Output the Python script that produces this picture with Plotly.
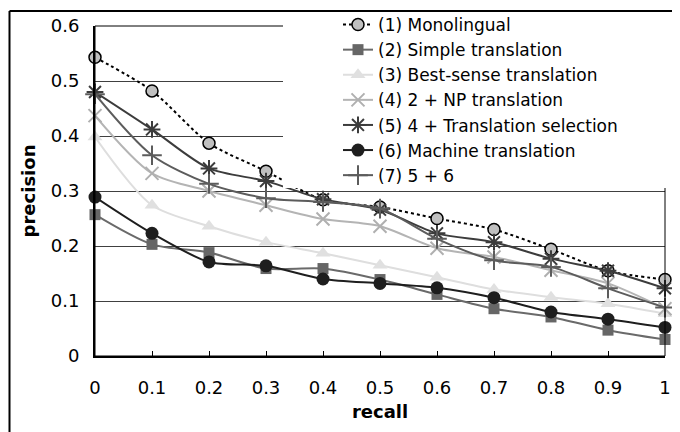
import plotly.graph_objects as go

recall = [0, 0.1, 0.2, 0.3, 0.4, 0.5, 0.6, 0.7, 0.8, 0.9, 1.0]

names = [
    "(1) Monolingual",
    "(2) Simple translation",
    "(3) Best-sense translation",
    "(4) 2 + NP translation",
    "(5) 4 + Translation selection",
    "(6) Machine translation",
    "(7) 5 + 6",
]

monolingual = [0.543, 0.482, 0.387, 0.336, 0.284, 0.271, 0.250, 0.230, 0.194, 0.155, 0.139]
simple_translation = [0.257, 0.203, 0.188, 0.159, 0.159, 0.139, 0.112, 0.086, 0.071, 0.047, 0.030]
best_sense = [0.398, 0.274, 0.236, 0.207, 0.187, 0.165, 0.143, 0.121, 0.107, 0.095, 0.077]
np_translation = [0.437, 0.332, 0.300, 0.274, 0.249, 0.236, 0.196, 0.180, 0.156, 0.132, 0.086]
translation_selection = [0.480, 0.412, 0.341, 0.318, 0.285, 0.266, 0.223, 0.207, 0.177, 0.155, 0.123]
machine_translation = [0.289, 0.223, 0.171, 0.164, 0.140, 0.132, 0.124, 0.106, 0.080, 0.067, 0.052]
combined = [0.476, 0.365, 0.313, 0.287, 0.280, 0.268, 0.213, 0.174, 0.162, 0.123, 0.088]

series = [monolingual, simple_translation, best_sense, np_translation,
          translation_selection, machine_translation, combined]

styles = [
    dict(line=dict(color="#000000", width=2, dash="dot"),
         marker=dict(symbol="circle", size=12, color="#c0c0c0", line=dict(color="#000000", width=1.5))),
    dict(line=dict(color="#6a6a6a", width=2),
         marker=dict(symbol="square", size=11, color="#666666", line=dict(color="#666666", width=0))),
    dict(line=dict(color="#dedede", width=2),
         marker=dict(symbol="triangle-up", size=13, color="#e0e0e0", line=dict(color="#e0e0e0", width=0))),
    dict(line=dict(color="#b4b4b4", width=2),
         marker=dict(symbol="x-thin-open", size=13, color="#b0b0b0", line=dict(color="#b0b0b0", width=2))),
    dict(line=dict(color="#3c3c3c", width=2),
         marker=dict(symbol="asterisk-open", size=14, color="#3c3c3c", line=dict(color="#3c3c3c", width=2))),
    dict(line=dict(color="#1e1e1e", width=2),
         marker=dict(symbol="circle", size=13, color="#1e1e1e", line=dict(color="#1e1e1e", width=0))),
    dict(line=dict(color="#5c5c5c", width=2),
         marker=dict(symbol="cross-thin-open", size=14, color="#5c5c5c", line=dict(color="#5c5c5c", width=2))),
]

FONT = "DejaVu Sans"

fig = go.Figure()
for name, vals, st in zip(names, series, styles):
    fig.add_trace(go.Scatter(
        x=recall, y=vals, name=name, mode="lines+markers",
        line=dict(shape="spline", smoothing=0.8, **st["line"]),
        marker=st["marker"], cliponaxis=False,
    ))

# page has an 8px body margin: the figure div starts at (8, 8)
OFF = 8
W, H = 672, 424
L, R, T, B = 87, 15, 18, 76
pw, ph = W - L - R, H - T - B

def px2x(px):
    return (px - OFF - L) / pw

def py2y(py):
    return (H - B - (py - OFF)) / ph

shapes = [
    # plot area border
    dict(type="rect", xref="paper", yref="paper", x0=0, x1=1, y0=0, y1=1,
         line=dict(color="#000000", width=1), fillcolor="rgba(0,0,0,0)", layer="above"),
    # legend background
    dict(type="rect", xref="paper", yref="paper", x0=px2x(283), x1=px2x(681), y0=py2y(188), y1=py2y(13),
         line=dict(width=0), fillcolor="#ffffff", layer="above"),
    # outer chart border: left and top edges
    dict(type="line", xref="paper", yref="paper", x0=px2x(9.5), x1=px2x(9.5), y0=py2y(440), y1=py2y(11),
         line=dict(color="#000000", width=2), layer="above"),
    dict(type="line", xref="paper", yref="paper", x0=px2x(9.5), x1=px2x(690), y0=py2y(11), y1=py2y(11),
         line=dict(color="#000000", width=2), layer="above"),
]

fig.update_layout(
    width=W, height=H,
    margin=dict(l=L, r=R, t=T, b=B, autoexpand=False),
    paper_bgcolor="#ffffff", plot_bgcolor="#ffffff",
    font=dict(family=FONT, size=18, color="#000000"),
    showlegend=True,
    legend=dict(x=px2x(338), y=py2y(7), xanchor="left", yanchor="top",
                bgcolor="rgba(0,0,0,0)", borderwidth=0,
                font=dict(family=FONT, size=17, color="#000000"),
                itemwidth=30, tracegroupgap=0),
    shapes=shapes,
    xaxis=dict(range=[0, 1], tickmode="array", tickvals=recall,
               ticktext=["0", "0.1", "0.2", "0.3", "0.4", "0.5", "0.6", "0.7", "0.8", "0.9", "1"],
               ticks="inside", ticklen=5, tickcolor="#000000", tickwidth=1,
               showline=True, linecolor="#000000", linewidth=2,
               showgrid=False, zeroline=False, ticklabelstandoff=14,
               title=dict(text="<b>recall</b>", font=dict(family=FONT, size=18), standoff=9)),
    yaxis=dict(range=[0, 0.6], tickmode="array", tickvals=[0, 0.1, 0.2, 0.3, 0.4, 0.5, 0.6],
               ticktext=["0", "0.1", "0.2", "0.3", "0.4", "0.5", "0.6"],
               ticks="", showline=True, linecolor="#000000", linewidth=2,
               showgrid=True, gridcolor="#404040", gridwidth=1, zeroline=False,
               ticklabelstandoff=10,
               title=dict(text="<b>precision</b>", font=dict(family=FONT, size=18), standoff=10)),
)

fig.write_html("out.html")
